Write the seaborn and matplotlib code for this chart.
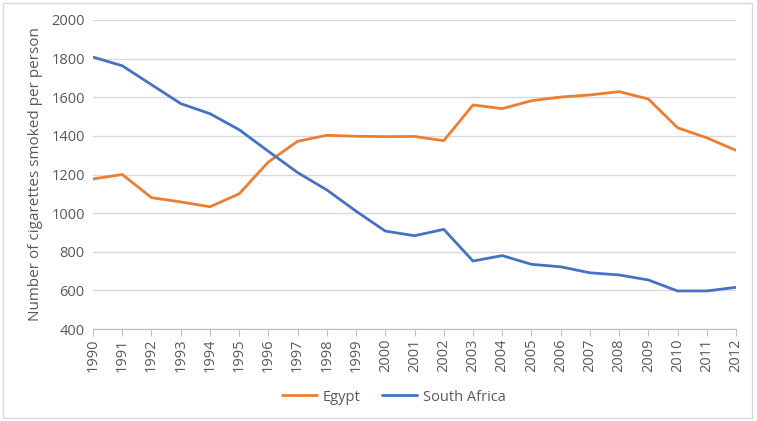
import pandas as pd
import matplotlib.pyplot as plt
import seaborn as sns
from matplotlib.patches import Rectangle

years = list(range(1990, 2013))
egypt = [1177, 1200, 1080, 1058, 1033, 1100, 1265, 1372, 1403, 1398, 1396, 1397, 1375,
         1560, 1541, 1582, 1601, 1612, 1629, 1591, 1442, 1390, 1325]
south_africa = [1808, 1763, 1665, 1567, 1515, 1432, 1320, 1210, 1120, 1010, 907, 883, 916,
                752, 780, 735, 722, 691, 680, 654, 597, 597, 616]
countries = ["Egypt", "South Africa"]
colors = ["#ED7D31", "#4472C4"]

df = pd.DataFrame({"year": years * 2,
                   "value": egypt + south_africa,
                   "country": ["Egypt"] * len(years) + ["South Africa"] * len(years)})

sns.set_style("white")
plt.rcParams['font.family'] = ['Open Sans', 'DejaVu Sans']
grey = "#595959"

fig = plt.figure(figsize=(7.57, 4.21), dpi=100)
ax = fig.add_axes([0.1229, 0.2185, 0.9723 - 0.1229, 0.9525 - 0.2185])

sns.lineplot(data=df, x="year", y="value", hue="country", hue_order=countries,
             palette=colors, linewidth=2, ax=ax)

ax.set_xlim(1990, 2012)
ax.set_ylim(400, 2000)
ax.set_yticks(range(400, 2001, 200))
ax.set_xticks(years)
ax.set_xticklabels([str(y) for y in years], rotation=90)
ax.grid(axis="y", color="#d9d9d9", linewidth=1)
ax.set_axisbelow(True)
for s in ["top", "right", "left"]:
    ax.spines[s].set_visible(False)
ax.spines["bottom"].set_color("#bfbfbf")
ax.tick_params(axis="x", direction="out", length=5, color="#bfbfbf", labelcolor=grey,
               labelsize=10.5, pad=2, bottom=True)
ax.tick_params(axis="y", length=0, labelcolor=grey, labelsize=10.5, pad=6)
ax.set_xlabel("")
ax.set_ylabel("Number of cigarettes smoked per person", color=grey, fontsize=11, labelpad=6)

handles, labels = ax.get_legend_handles_labels()
ax.get_legend().remove()
fig.legend(handles, labels, loc="center", bbox_to_anchor=(0.52, 0.057), ncol=2, frameon=False,
           fontsize=10.5, labelcolor=grey, handlelength=2.4, columnspacing=1.5,
           handletextpad=0.4)

fig.patches.append(Rectangle((0.004, 0.007), 0.99, 0.985, transform=fig.transFigure,
                             fill=False, edgecolor="#d9d9d9", linewidth=1))

fig.savefig("out.png", dpi=100)
